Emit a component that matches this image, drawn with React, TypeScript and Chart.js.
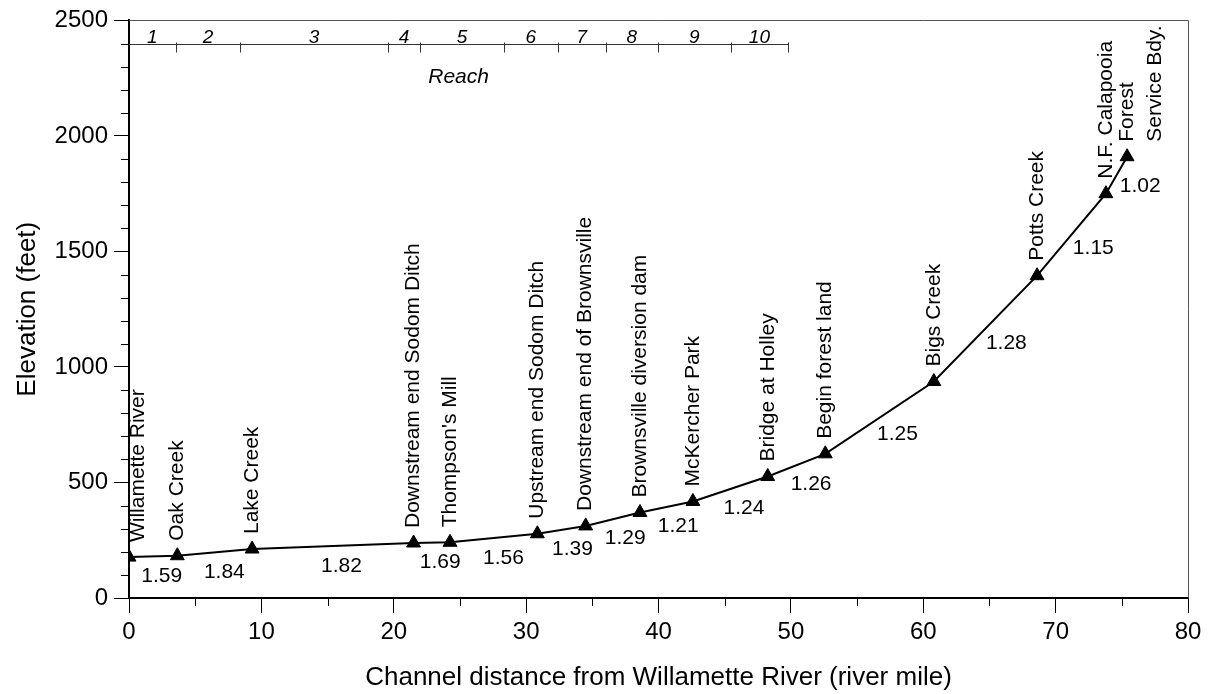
import React, { useEffect, useRef } from "react";
import { Chart, registerables } from "chart.js";

Chart.register(...registerables);

const FONT = '"Liberation Sans", Arial, Helvetica, sans-serif';

// Stations along the channel
const stationNames = [
  "Willamette River",
  "Oak Creek",
  "Lake Creek",
  "Downstream end Sodom Ditch",
  "Thompson's Mill",
  "Upstream end Sodom Ditch",
  "Downstream end of Brownsville",
  "Brownsville diversion dam",
  "McKercher Park",
  "Bridge at Holley",
  "Begin forest land",
  "Bigs Creek",
  "Potts Creek",
  "N.F. Calapooia",
  "Forest\nService Bdy.",
];
const stationMiles = [0, 3.65, 9.3, 21.5, 24.25, 30.85, 34.5, 38.6, 42.6, 48.25, 52.6, 60.8, 68.6, 73.8, 75.4];
const stationElev = [177, 183, 212, 238, 241, 278, 312, 370, 418, 526, 624, 937, 1395, 1750, 1910];

// Slope values written between consecutive stations
const slopeLabels = ["1.59", "1.84", "1.82", "1.69", "1.56", "1.39", "1.29", "1.21", "1.24", "1.26", "1.25", "1.28", "1.15", "1.02"];

// Reach divisions (river mile) and names
const reachBounds = [0, 3.53, 8.42, 19.55, 22.0, 28.3, 32.4, 36.0, 39.95, 45.45, 49.8];
const reachNames = ["1", "2", "3", "4", "5", "6", "7", "8", "9", "10"];
const reachLevel = 2400;
const reachTitle = "Reach";

// Axes
const xMin = 0, xMax = 80, xMajor = 10, xMinor = 5;
const yMin = 0, yMax = 2500, yMajor = 500, yMinor = 100;
const xTitle = "Channel distance from Willamette River (river mile)";
const yTitle = "Elevation (feet)";

const annotPlugin = {
  id: "annot",
  afterDraw(chart: any) {
    const { ctx, chartArea: ca, scales } = chart;
    const x = scales.x, y = scales.y;
    ctx.save();

    // top and right frame
    ctx.strokeStyle = "#555";
    ctx.lineWidth = 1;
    ctx.beginPath();
    ctx.moveTo(ca.left, Math.round(ca.top) + 0.5);
    ctx.lineTo(Math.round(ca.right) + 0.5, Math.round(ca.top) + 0.5);
    ctx.lineTo(Math.round(ca.right) + 0.5, ca.bottom);
    ctx.stroke();

    // minor ticks
    ctx.strokeStyle = "#000";
    ctx.beginPath();
    for (let v = yMin + yMinor; v < yMax; v += yMinor) {
      if (v % yMajor === 0) continue;
      const py = Math.round(y.getPixelForValue(v)) + 0.5;
      ctx.moveTo(ca.left - 8, py);
      ctx.lineTo(ca.left, py);
    }
    for (let m = xMin + xMinor; m < xMax; m += xMinor) {
      if (m % xMajor === 0) continue;
      const px = Math.round(x.getPixelForValue(m)) + 0.5;
      ctx.moveTo(px, ca.bottom);
      ctx.lineTo(px, ca.bottom + 8);
    }
    ctx.stroke();

    // reach bar
    const ry = Math.round(y.getPixelForValue(reachLevel)) + 0.5;
    ctx.strokeStyle = "#333";
    ctx.beginPath();
    ctx.moveTo(x.getPixelForValue(reachBounds[0]), ry);
    ctx.lineTo(x.getPixelForValue(reachBounds[reachBounds.length - 1]), ry);
    for (let i = 1; i < reachBounds.length; i++) {
      const px = Math.round(x.getPixelForValue(reachBounds[i])) + 0.5;
      ctx.moveTo(px, ry - 2);
      ctx.lineTo(px, ry + 8);
    }
    ctx.stroke();
    ctx.fillStyle = "#000";
    ctx.font = `italic 19px ${FONT}`;
    ctx.textAlign = "center";
    ctx.textBaseline = "alphabetic";
    for (let i = 0; i < reachNames.length; i++) {
      const cx = (x.getPixelForValue(reachBounds[i]) + x.getPixelForValue(reachBounds[i + 1])) / 2;
      ctx.fillText(reachNames[i], cx, ry - 2);
    }
    ctx.font = `italic 21px ${FONT}`;
    ctx.textBaseline = "middle";
    const rc = (x.getPixelForValue(reachBounds[0]) + x.getPixelForValue(reachBounds[reachBounds.length - 1])) / 2;
    ctx.fillText(reachTitle, rc, ry + 33);

    // station labels (rotated)
    ctx.font = `21px ${FONT}`;
    ctx.textAlign = "left";
    ctx.textBaseline = "middle";
    for (let i = 0; i < stationNames.length; i++) {
      let px = x.getPixelForValue(stationMiles[i]);
      const py = y.getPixelForValue(stationElev[i]);
      if (px <= ca.left + 1) px += 9;
      ctx.save();
      ctx.translate(px, py - 15);
      ctx.rotate(-Math.PI / 2);
      stationNames[i].split("\n").forEach((ln, k) => ctx.fillText(ln, 0, k * 28));
      ctx.restore();
    }

    // slope labels
    ctx.font = `21px ${FONT}`;
    ctx.textAlign = "center";
    ctx.textBaseline = "middle";
    for (let i = 0; i < slopeLabels.length; i++) {
      const x1 = x.getPixelForValue(stationMiles[i]);
      const y1 = y.getPixelForValue(stationElev[i]);
      const x2 = x.getPixelForValue(stationMiles[i + 1]);
      const y2 = y.getPixelForValue(stationElev[i + 1]);
      const len = Math.hypot(x2 - x1, y2 - y1) || 1;
      const dx = (x2 - x1) / len, dy = (y2 - y1) / len;
      const nx = -dy, ny = dx;
      const cx = (x1 + x2) / 2 + nx * 18 + 8;
      const cy = (y1 + y2) / 2 + ny * 18 + 2;
      ctx.fillText(slopeLabels[i], cx, cy);
    }
    ctx.restore();
  },
};

export default function App() {
  const ref = useRef<HTMLCanvasElement | null>(null);
  useEffect(() => {
    if (!ref.current) return;
    Chart.defaults.font.family = FONT;
    const chart = new Chart(ref.current, {
      type: "line",
      data: {
        datasets: [
          {
            data: stationMiles.map((m, i) => ({ x: m, y: stationElev[i] })),
            borderColor: "#000",
            backgroundColor: "#000",
            borderWidth: 2,
            pointStyle: "triangle",
            pointRadius: 8,
            pointBorderWidth: 1,
            pointBackgroundColor: "#000",
            pointBorderColor: "#000",
            tension: 0,
          },
        ],
      },
      options: {
        animation: false,
        responsive: false,
        maintainAspectRatio: false,
        layout: { padding: { left: 0, right: 21, top: 19, bottom: 0 } },
        plugins: { legend: { display: false }, tooltip: { enabled: false } },
        scales: {
          x: {
            type: "linear",
            min: xMin,
            max: xMax,
            ticks: { stepSize: xMajor, color: "#000", font: { size: 24, family: FONT }, padding: 5, maxRotation: 0, autoSkip: false, callback: (v: any) => String(v) },
            grid: { drawOnChartArea: false, drawTicks: true, tickLength: 15, tickColor: "#000", tickWidth: 1 },
            border: { color: "#000", width: 2 },
            title: { display: true, text: xTitle, color: "#000", font: { size: 26, family: FONT }, padding: { top: 0, bottom: 1 } },
            afterFit: (s: any) => { s.height = 96; },
          },
          y: {
            type: "linear",
            min: yMin,
            max: yMax,
            ticks: { stepSize: yMajor, color: "#000", font: { size: 24, family: FONT }, padding: 6, callback: (v: any) => String(v) },
            grid: { drawOnChartArea: false, drawTicks: true, tickLength: 15, tickColor: "#000", tickWidth: 1 },
            border: { color: "#000", width: 2 },
            title: { display: true, text: yTitle, color: "#000", font: { size: 26, family: FONT }, padding: { top: 12, bottom: 0 } },
            afterFit: (s: any) => { s.width = 129; },
          },
        },
      },
      plugins: [annotPlugin],
    } as any);
    return () => chart.destroy();
  }, []);
  return (
    <div style={{ position: "absolute", left: 0, top: 0, width: 1209, height: 694 }}>
      <canvas ref={ref} width={1209} height={694} />
    </div>
  );
}
